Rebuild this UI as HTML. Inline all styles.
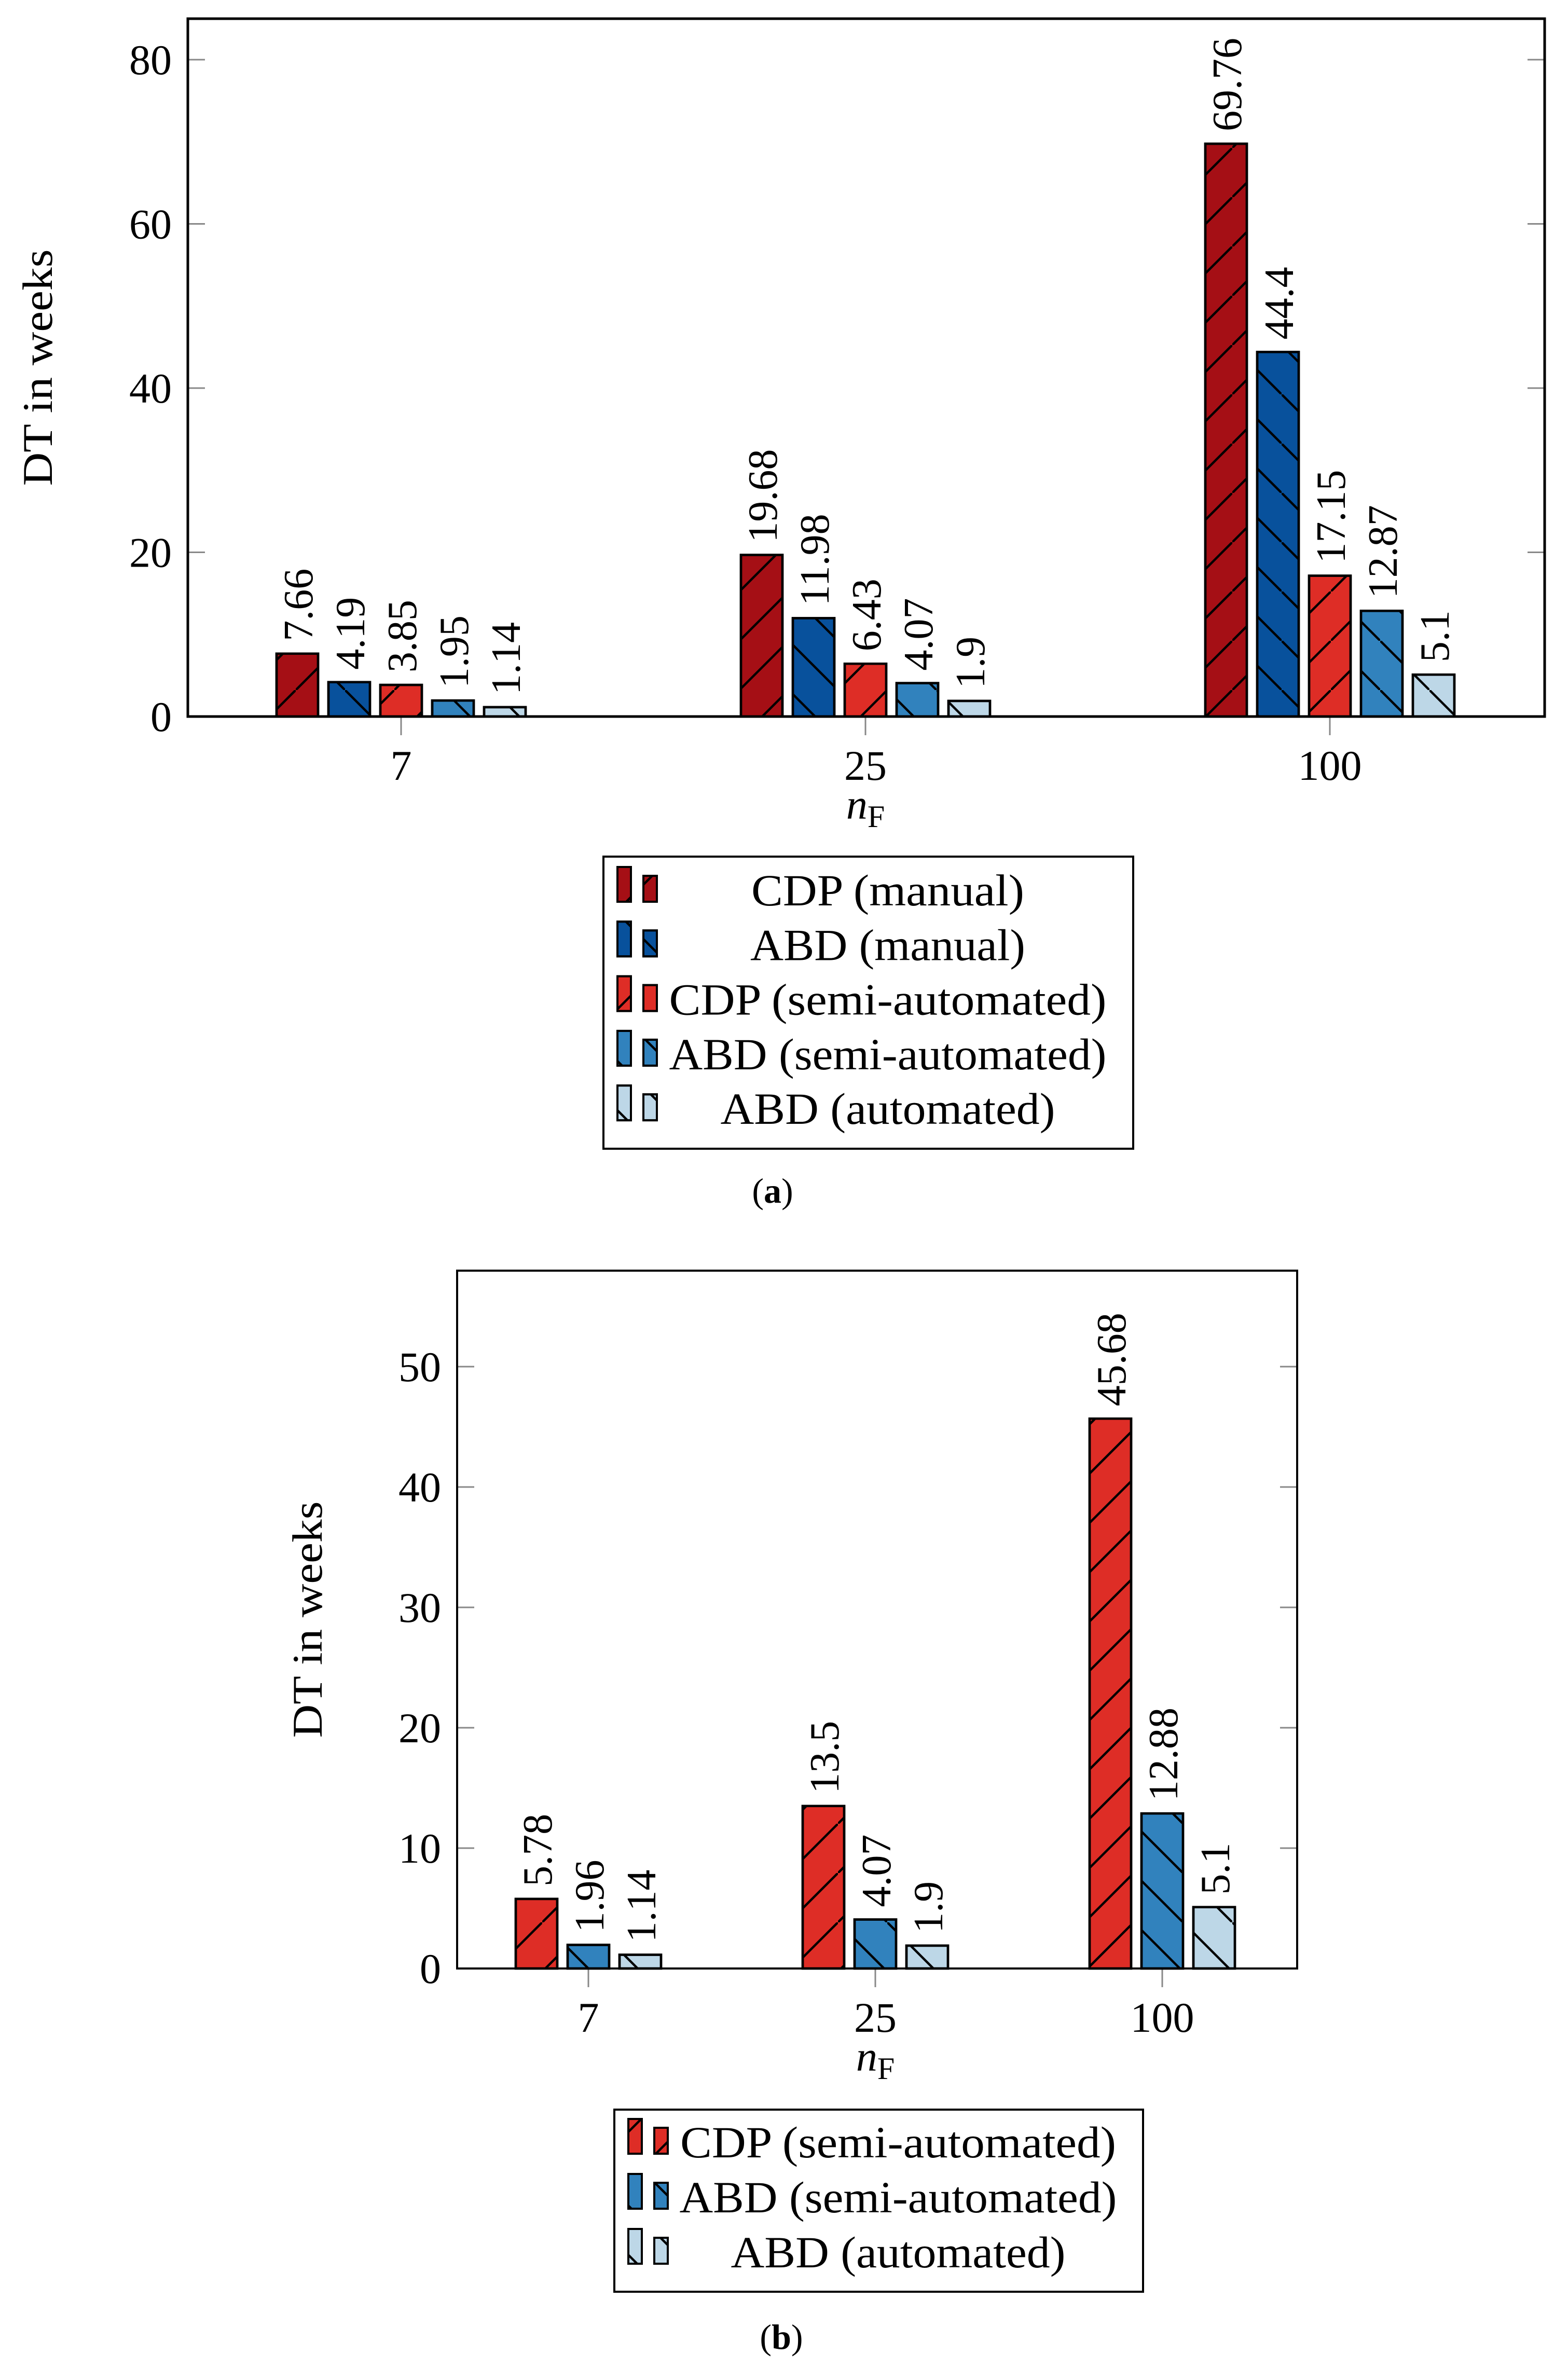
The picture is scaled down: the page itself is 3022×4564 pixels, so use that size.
<!DOCTYPE html>
<html><head><meta charset="utf-8"><style>
html,body{margin:0;padding:0;background:#fff;}
svg{display:block;}
text{font-family:"Liberation Serif",serif;fill:#000;}
</style></head>
<body>
<svg id="fig" width="3022" height="4564" viewBox="0 0 3022 4564" xmlns="http://www.w3.org/2000/svg">
<defs>
<pattern id="ne" patternUnits="userSpaceOnUse" width="95" height="95">
<path d="M-10,105 L105,-10" stroke="#000" stroke-width="4.5"/>
</pattern>
<pattern id="nw" patternUnits="userSpaceOnUse" width="95" height="95">
<path d="M-10,-10 L105,105" stroke="#000" stroke-width="4.5"/>
</pattern>
</defs>
<g id="chartA"></g>
<g id="chartB"></g>
<text x="1489" y="2318" font-size="68" text-anchor="middle">(<tspan font-weight="bold">a</tspan>)</text>
<text x="1506" y="4527" font-size="68" text-anchor="middle">(<tspan font-weight="bold">b</tspan>)</text>
</svg>
<script>
const categoriesA = ["7", "25", "100"];
const seriesNamesA = ["CDP (manual)", "ABD (manual)", "CDP (semi-automated)", "ABD (semi-automated)", "ABD (automated)"];
const cdpManualA = [7.66, 19.68, 69.76];
const abdManualA = [4.19, 11.98, 44.4];
const cdpSemiA = [3.85, 6.43, 17.15];
const abdSemiA = [1.95, 4.07, 12.87];
const abdAutoA = [1.14, 1.9, 5.1];
const yTicksA = [0, 20, 40, 60, 80];

const categoriesB = ["7", "25", "100"];
const seriesNamesB = ["CDP (semi-automated)", "ABD (semi-automated)", "ABD (automated)"];
const cdpSemiB = [5.78, 13.5, 45.68];
const abdSemiB = [1.96, 4.07, 12.88];
const abdAutoB = [1.14, 1.9, 5.1];
const yTicksB = [0, 10, 20, 30, 40, 50];

const NS = "http://www.w3.org/2000/svg";
function mk(tag, attrs, parent){
  const e = document.createElementNS(NS, tag);
  for (const k in attrs) e.setAttribute(k, attrs[k]);
  parent.appendChild(e);
  return e;
}

function drawChart(g, cfg){
  const {L,R,T,B,ymax,yTicks,cats,series,names,styles,axisW,leg,titleX,nfY,tickY,center,spacing} = cfg;
  const ys = v => B - v/ymax*(B-T - (cfg.topPad||0));
  const n = cats.length;
  const xs = i => center + (i-(n-1)/2)*spacing;
  const barW = 80, barStep = 100;
  const k = series.length;
  yTicks.forEach(t=>{
    const y = ys(t);
    let l = mk('line',{x1:L,x2:L+33,y1:y,y2:y,stroke:'#888',"stroke-width":3},g);
    
    
    let r = mk('line',{x1:R-33,x2:R,y1:y,y2:y,stroke:'#888',"stroke-width":3},g);
    
    
    let tx = mk('text',{x:L-31,y:y+28,"font-size":82,"text-anchor":"end"},g);
    tx.textContent = t;
    
    
  });
  cats.forEach((c,i)=>{
    const x = xs(i);
    let l = mk('line',{x1:x,x2:x,y1:B,y2:B+36,stroke:'#888',"stroke-width":3},g);
    
    
    let tx = mk('text',{x:x,y:tickY,"font-size":82,"text-anchor":"middle"},g);
    tx.textContent = c;
    
    
  });
  series.forEach((vals,s)=>{
    vals.forEach((v,i)=>{
      const cx = xs(i) + (s-(k-1)/2)*barStep;
      const y = ys(v);
      const h = B - y;
      let r = mk('rect',{x:cx-barW/2,y:y,width:barW,height:h,fill:styles[s].c,stroke:'#000',"stroke-width":4.5},g);
      
      
      let p = mk('rect',{x:cx-barW/2,y:y,width:barW,height:h,fill:'url(#'+styles[s].p+')',stroke:'#000',"stroke-width":4.5},g);
      
      
      const lx = cx+29, ly = y-24;
      let t = mk('text',{x:lx,y:ly,"font-size":80,transform:`rotate(-90 ${lx} ${ly})`},g);
      t.textContent = v;
      
      
    });
  });
  let f = mk('rect',{x:L,y:T,width:R-L,height:B-T,fill:'none',stroke:'#000',"stroke-width":axisW},g);
  
  
  const ty = (T+B)/2;
  let yt = mk('text',{x:titleX,y:ty,"font-size":82,"text-anchor":"middle",textLength:456,lengthAdjust:"spacingAndGlyphs",transform:`rotate(-90 ${titleX} ${ty})`},g);
  yt.textContent = 'DT in weeks';
  
  
  let xt = mk('text',{x:center,y:nfY,"font-size":82,"text-anchor":"middle"},g);
  xt.innerHTML = '<tspan font-style="italic">n</tspan><tspan font-size="60" dy="16">F</tspan>';
  
  
  const lg = mk('g',{},g);
  
  
  let lb = mk('rect',{x:leg.x,y:leg.y,width:leg.w,height:leg.h,fill:'#fff',stroke:'#000',"stroke-width":4},lg);
  
  
  names.forEach((nm,s)=>{
    const base = leg.base0 + s*leg.dy;
    const e = mk('g',{},lg);
    
    
    [[leg.sx1, base-74, 67],[leg.sx2, base-57, 50]].forEach(([sx,sy,sh])=>{
      mk('rect',{x:sx,y:sy,width:26,height:sh,fill:styles[s].c,stroke:'#000',"stroke-width":4},e);
      mk('rect',{x:sx,y:sy,width:26,height:sh,fill:'url(#'+styles[s].p+')',stroke:'#000',"stroke-width":4},e);
    });
    const tt = mk('text',{x:leg.tc,y:base,"font-size":86,"text-anchor":"middle",textLength:leg.widths[s],lengthAdjust:"spacingAndGlyphs"},e);
    tt.textContent = nm;
  });
}

const darkRed={c:'#A50F15',p:'ne'}, darkBlue={c:'#08519C',p:'nw'}, red={c:'#DE2D26',p:'ne'}, blue={c:'#3182BD',p:'nw'}, light={c:'#BDD7E7',p:'nw'};

drawChart(document.getElementById('chartA'),{
  L:362,R:2977,T:36,B:1381,ymax:80,topPad:(1381-36)-(1381-115),yTicks:yTicksA,cats:categoriesA,
  series:[cdpManualA,abdManualA,cdpSemiA,abdSemiA,abdAutoA],names:seriesNamesA,
  styles:[darkRed,darkBlue,red,blue,light],axisW:5,titleX:100,nfY:1578,tickY:1503,
  center:1668,spacing:895,
  leg:{x:1163,y:1651,w:1021,h:563,base0:1745,dy:105.3,sx1:1190,sx2:1240,tc:1711,widths:[526,530,843,843,645]}
});
drawChart(document.getElementById('chartB'),{
  L:881,R:2500,T:2449,B:3794,ymax:50,topPad:(3794-2449)-(3794-2634),yTicks:yTicksB,cats:categoriesB,
  series:[cdpSemiB,abdSemiB,abdAutoB],names:seriesNamesB,
  styles:[red,blue,light],axisW:4,titleX:620,nfY:3991,tickY:3916,
  center:1687,spacing:553,
  leg:{x:1184,y:4066,w:1019,h:351,base0:4158,dy:106,sx1:1211,sx2:1261,tc:1731,widths:[840,843,645]}
});
</script>
</body></html>
